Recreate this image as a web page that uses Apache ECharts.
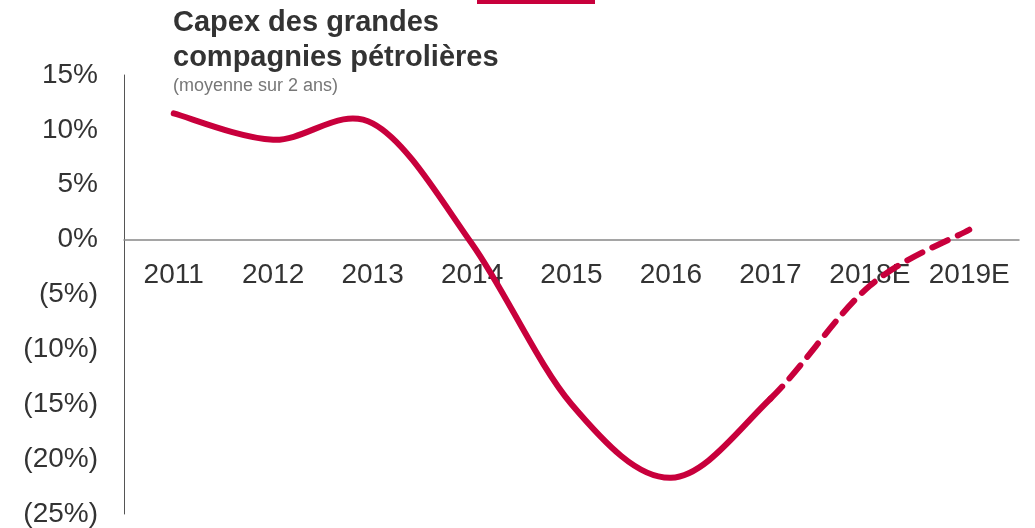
<!DOCTYPE html>
<html>
<head>
<meta charset="utf-8">
<script src="https://cdn.jsdelivr.net/npm/echarts@6/dist/echarts.min.js"></script>
<style>
  html, body { margin: 0; padding: 0; background: #fff; }
  #chart { width: 1035px; height: 528px; }
</style>
</head>
<body>
<div id="chart"></div>
<script>
const years = ["2011", "2012", "2013", "2014", "2015", "2016", "2017", "2018E", "2019E"];
const capex = [11.5, 9.1, 10.6, -0.4, -15.0, -21.7, -14.5, -4.2, 0.9];
const lastActual = 6; // 2017: solid up to here, dashed after
const yTicks = { min: -25, max: 15, step: 5 };

const red = "#c8003c";
const font = "'Liberation Sans', Arial, sans-serif";
const gridTop = 75;
const gridBottom = 14;

const chart = echarts.init(document.getElementById("chart"));

const fmtPct = (v) => (v < 0 ? `(${-v}%)` : `${v}%`);

// Excel-like smoothed curve (Catmull-Rom as cubic bezier) through the data points
const renderCurve = (params, api) => {
  const from = api.value(0);
  const to = api.value(1);
  const pts = capex.map((v, i) => api.coord([i, v]));
  const k = 1 / 6;
  let d = `M${pts[from][0]},${pts[from][1]}`;
  for (let i = from; i < to; i++) {
    const p0 = pts[Math.max(i - 1, 0)];
    const p1 = pts[i];
    const p2 = pts[i + 1];
    const p3 = pts[Math.min(i + 2, pts.length - 1)];
    const c1 = [p1[0] + (p2[0] - p0[0]) * k, p1[1] + (p2[1] - p0[1]) * k];
    const c2 = [p2[0] - (p3[0] - p1[0]) * k, p2[1] - (p3[1] - p1[1]) * k];
    d += ` C${c1[0]},${c1[1]} ${c2[0]},${c2[1]} ${p2[0]},${p2[1]}`;
  }
  const dashed = from >= lastActual;
  return {
    type: "path",
    shape: { pathData: d },
    style: {
      fill: null,
      stroke: red,
      lineWidth: 6,
      lineCap: "round",
      lineJoin: "round",
      lineDash: dashed ? [17, 11] : null,
    },
  };
};

chart.setOption({
  animation: false,
  textStyle: { fontFamily: font },
  title: {
    text: "Capex des grandes\ncompagnies pétrolières",
    subtext: "(moyenne sur 2 ans)",
    left: 168,
    top: 0,
    itemGap: 2,
    textStyle: { fontSize: 29, fontWeight: "bold", color: "#333", lineHeight: 35, fontFamily: font },
    subtextStyle: { fontSize: 18, color: "#777", fontFamily: font },
  },
  graphic: [
    {
      type: "rect",
      shape: { x: 477, y: 0, width: 118, height: 4 },
      style: { fill: red },
    },
  ],
  grid: { left: 124, right: 16, top: gridTop, bottom: gridBottom, outerBoundsMode: "none" },
  xAxis: {
    type: "category",
    data: years,
    boundaryGap: true,
    axisLine: { onZero: false, lineStyle: { color: "#888", width: 1.5 } },
    axisTick: { show: false },
    axisLabel: { interval: 0, fontSize: 28, color: "#333", margin: 22, fontFamily: font },
  },
  yAxis: {
    type: "value",
    min: yTicks.min,
    max: yTicks.max,
    interval: yTicks.step,
    splitLine: { show: false },
    axisLine: { show: true, lineStyle: { color: "#555", width: 1 } },
    axisTick: { show: false },
    axisLabel: { fontSize: 28, color: "#333", margin: 26, formatter: fmtPct, fontFamily: font },
  },
  series: [
    {
      type: "custom",
      coordinateSystem: "cartesian2d",
      renderItem: renderCurve,
      // [first index, last index] of each stretch: actual, then estimate
      data: [
        [0, lastActual],
        [lastActual, capex.length - 1],
      ],
      encode: { x: -1, y: -1 },
      clip: false,
      silent: true,
      z: 3,
    },
  ],
});

// move the category axis (line + labels) up to the 0% level
const zeroY = chart.convertToPixel({ yAxisIndex: 0 }, 0);
const bottomY = 528 - gridBottom;
chart.setOption({ xAxis: { offset: zeroY - bottomY } });
</script>
</body>
</html>
